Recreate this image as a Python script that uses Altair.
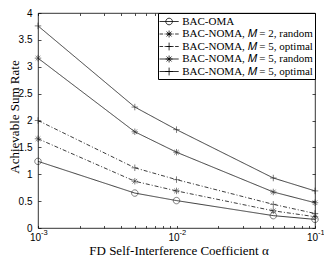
import altair as alt
import pandas as pd

alpha = [0.001, 0.005, 0.01, 0.05, 0.1]
keys = ["s1", "s2", "s3", "s4", "s5"]
labels = [
    "BAC-OMA",
    "BAC-NOMA, 𝑀 = 2, random",
    "BAC-NOMA, 𝑀 = 5, optimal",
    "BAC-NOMA, 𝑀 = 5, random",
    "BAC-NOMA, 𝑀 = 5, optimal",
]
rate_oma = [1.24, 0.65, 0.51, 0.23, 0.16]
rate_m2_random = [1.66, 0.87, 0.69, 0.32, 0.21]
rate_m5_optimal_dd = [2.00, 1.12, 0.90, 0.44, 0.27]
rate_m5_random = [3.16, 1.79, 1.41, 0.67, 0.47]
rate_m5_optimal = [3.76, 2.25, 1.83, 0.93, 0.69]
series = [rate_oma, rate_m2_random, rate_m5_optimal_dd, rate_m5_random, rate_m5_optimal]

x_major = [0.001, 0.01, 0.1]
x_minor = [m * d for d in (0.001, 0.01) for m in range(1, 10)] + [0.1]
y_ticks = [0, 0.5, 1, 1.5, 2, 2.5, 3, 3.5, 4]

rows = []
for k, vals in zip(keys, series):
    for a, v in zip(alpha, vals):
        rows.append({"key": k, "alpha": a, "rate": v})
df = pd.DataFrame(rows)

PAD_L, PAD_T, PAD_R, PAD_B = 30, 5, 9, 29
W, H = 316 - PAD_L - PAD_R, 215
SERIF = "Liberation Serif"
SANS = "Liberation Sans"

dashes = [[1, 0], [4, 2, 1, 2], [4, 2, 1, 2], [1, 0], [1, 0]]
ast = "M0,-1V1M-1,0H1M-0.71,-0.71L0.71,0.71M-0.71,0.71L0.71,-0.71"
plus = "M0,-1V1M-1,0H1"
circ = "M1,0A1,1 0 1,1 -1,0A1,1 0 1,1 1,0"
marker_paths = [circ, ast, plus, ast, plus]

solid = "M-1.6,0H1.6"
dashdot = "M-1.6,0H-1.0M-0.75,0H-0.65M-0.4,0H0.4M0.65,0H0.75M1.0,0H1.6"
l_circ = "M0.55,0A0.55,0.55 0 1,1 -0.55,0A0.55,0.55 0 1,1 0.55,0"
l_ast = "M0,-0.58V0.58M-0.58,0H0.58M-0.41,-0.41L0.41,0.41M-0.41,0.41L0.41,-0.41"
l_plus = "M0,-0.65V0.65M-0.65,0H0.65"
legend_paths = [
    solid + l_circ,
    dashdot + l_ast,
    dashdot + l_plus,
    solid + l_ast,
    solid + l_plus,
]

label_expr = ""
for k, lab in zip(keys, labels):
    label_expr += f"datum.label == '{k}' ? '{lab}' : "
label_expr += "''"

xscale = alt.Scale(type="log", domain=[0.001, 0.1], nice=False)
yscale = alt.Scale(domain=[0, 4], nice=False, zero=True)

tick_common = dict(labels=False, domain=False, grid=False, title=None,
                   tickColor="black", tickWidth=0.7)

base = alt.Chart(df)

lines = base.mark_line(color="#1a1a1a", strokeWidth=0.85).encode(
    x=alt.X("alpha:Q", scale=xscale, axis=alt.Axis(
        orient="bottom", values=x_major, labelExpr="'10'", ticks=False, domain=False,
        grid=False, labelFont=SANS, labelFontSize=10, labelColor="black",
        labelPadding=4, labelOffset=-3, labelFlush=False, labelOverlap=False,
        title="FD Self-Interference Coefficient α", titleFont=SERIF,
        titleFontSize=13, titleFontWeight="normal", titleColor="black",
        titleBaseline="alphabetic", titleX=W / 2 + 2, titleY=26)),
    y=alt.Y("rate:Q", scale=yscale, axis=alt.Axis(
        orient="left", values=y_ticks, labelExpr="format(datum.value, '~g')",
        ticks=False, domain=False, grid=False, labelFont=SANS, labelFontSize=10,
        labelColor="black", labelPadding=6, labelFlush=False, labelOverlap=False,
        title="Achievable Sum Rate", titleFont=SERIF, titleFontSize=13,
        titleFontWeight="normal", titleColor="black", titleBaseline="alphabetic",
        titleAngle=270, titleX=-19.5, titleY=H / 2 - 4)),
    strokeDash=alt.StrokeDash("key:N", scale=alt.Scale(domain=keys, range=dashes),
                              legend=None),
)

points = base.mark_point(filled=False, color="#1a1a1a", strokeWidth=0.8, size=42).encode(
    x=alt.X("alpha:Q", scale=xscale, axis=alt.Axis(
        orient="bottom", values=x_major,
        labelExpr="datum.value < 0.005 ? '-3' : (datum.value < 0.05 ? '-2' : '-1')",
        ticks=False, domain=False, grid=False, labelFont=SANS, labelFontSize=7.5,
        labelColor="black", labelPadding=0.5, labelAlign="left", labelOffset=2.5,
        labelFlush=False, labelOverlap=False, title=None)),
    y=alt.Y("rate:Q", scale=yscale, axis=alt.Axis(
        orient="right", offset=-W, values=y_ticks, tickSize=3, **tick_common)),
    shape=alt.Shape("key:N", scale=alt.Scale(domain=keys, range=marker_paths),
                    legend=None),
)

legend_layer = base.mark_point(opacity=0).encode(
    x=alt.X("alpha:Q", scale=xscale, axis=alt.Axis(
        orient="top", offset=-H, values=x_minor, tickSize=2.5, **tick_common)),
    y=alt.Y("rate:Q", scale=yscale, axis=alt.Axis(
        orient="left", offset=-W, values=y_ticks, tickSize=3, **tick_common)),
    shape=alt.Shape("key:N", scale=alt.Scale(domain=keys, range=legend_paths),
                    legend=alt.Legend(
                        orient="top-right", offset=0, title=None, labelExpr=label_expr,
                        labelFont=SERIF, labelFontSize=11, labelColor="black",
                        labelLimit=0, symbolSize=144, symbolStrokeColor="black",
                        symbolFillColor="transparent", symbolStrokeWidth=0.8,
                        symbolOpacity=1, strokeColor="black", fillColor="white",
                        padding=2, rowPadding=0.5, symbolOffset=2.6, labelOffset=6.6)),
)

top_ticks = base.mark_point(opacity=0).encode(
    x=alt.X("alpha:Q", scale=xscale, axis=alt.Axis(
        orient="bottom", offset=-H, values=x_minor, tickSize=2.5, **tick_common)),
    y=alt.Y("rate:Q", scale=yscale, axis=None),
)

chart = alt.layer(lines, points, legend_layer, top_ticks).resolve_scale(
    shape="independent"
).resolve_axis(x="independent", y="independent").properties(
    width=W, height=H,
    autosize=alt.AutoSizeParams(type="none"),
    padding={"left": PAD_L, "top": PAD_T, "right": PAD_R, "bottom": PAD_B},
    background="white",
).configure_view(stroke="black", strokeWidth=0.8)

chart.save("out.html", embed_options={"renderer": "svg", "actions": False})
